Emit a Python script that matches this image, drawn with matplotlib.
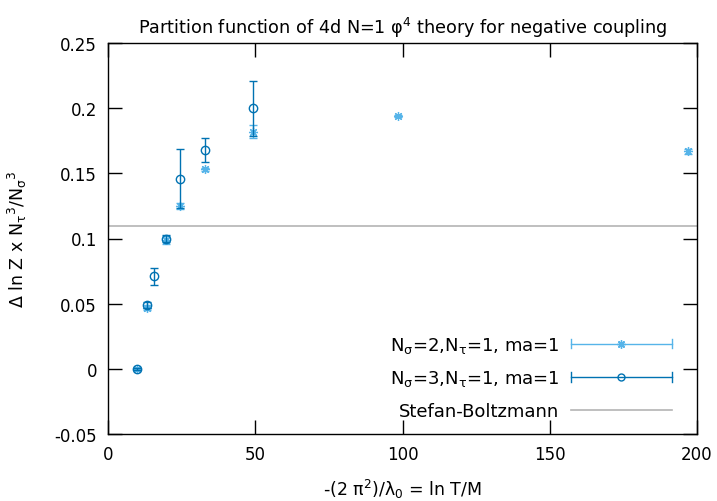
import numpy as np
import matplotlib
matplotlib.use("Agg")
import matplotlib.pyplot as plt
from matplotlib.lines import Line2D
from matplotlib.legend_handler import HandlerBase

# Data
x_n2 = [9.8, 13.1, 19.7, 24.6, 32.8, 49.2, 98.5, 197.0]
y_n2 = [0.0, 0.047, 0.099, 0.125, 0.153, 0.182, 0.194, 0.167]
e_n2 = [0.001, 0.002, 0.003, 0.002, 0.001, 0.005, 0.001, 0.002]

x_n3 = [9.8, 13.1, 15.6, 19.7, 24.6, 32.8, 49.2]
y_n3 = [0.0, 0.049, 0.071, 0.100, 0.146, 0.168, 0.200]
e_n3 = [0.001, 0.002, 0.0067, 0.003, 0.0225, 0.009, 0.021]

sb_value = np.pi ** 2 / 90

label_n2 = r'N$_\mathrm{\sigma}$=2,N$_\mathrm{\tau}$=1, ma=1'
label_n3 = r'N$_\mathrm{\sigma}$=3,N$_\mathrm{\tau}$=1, ma=1'
label_sb = 'Stefan-Boltzmann'

c2 = '#56b4e9'
c3 = '#0072b2'
csb = '#b4b4b4'

plt.rcParams['font.family'] = ['DejaVu Sans']
plt.rcParams['mathtext.fontset'] = 'dejavusans'

fig = plt.figure(figsize=(7.17, 5.02), dpi=100)
ax = fig.add_axes([108/717, 1-435/502, (697-108)/717, (435-44)/502])

ax.axhline(sb_value, color=csb, lw=1.2, zorder=1)
star = (8, 2, 0)
ax.errorbar(x_n2, y_n2, yerr=e_n2, fmt='none', ecolor=c2, elinewidth=1.0,
            capsize=3.2, capthick=1.0, zorder=2)
ax.plot(x_n2, y_n2, linestyle='none', marker=star, ms=6.5, mec=c2, mew=0.9, zorder=3)
ax.errorbar(x_n3, y_n3, yerr=e_n3, fmt='none', ecolor=c3, elinewidth=1.0,
            capsize=3.2, capthick=1.0, zorder=4)
ax.plot(x_n3, y_n3, linestyle='none', marker='o', ms=6, mfc='none', mec=c3, mew=1.0, zorder=5)

ax.set_xlim(0, 200)
ax.set_ylim(-0.05, 0.25)
ax.set_xticks([0, 50, 100, 150, 200])
ax.set_yticks([-0.05, 0, 0.05, 0.1, 0.15, 0.2, 0.25])
ax.set_yticklabels(['-0.05', '0', '0.05', '0.1', '0.15', '0.2', '0.25'])
ax.tick_params(direction='in', length=10, width=1.0, top=True, right=True,
               labelsize=12, pad=8, colors='black')
for s in ax.spines.values():
    s.set_linewidth(1.0)

ax.set_title(r'Partition function of 4d N=1 φ$^4$ theory for negative coupling',
             fontsize=12.7, pad=7)
ax.set_xlabel(r'-(2 π$^2$)/λ$_0$ = ln T/M', fontsize=12.5, labelpad=10)
ax.set_ylabel(r'Δ ln Z x N$_\mathrm{\tau}$$^3$/N$_\mathrm{\sigma}$$^3$', fontsize=12.5, labelpad=18)


class HandlerErr(HandlerBase):
    def __init__(self, color, marker, ms, mfc, kind='err'):
        super().__init__()
        self.color = color
        self.marker = marker
        self.ms = ms
        self.mfc = mfc
        self.kind = kind

    def create_artists(self, legend, orig_handle, xdescent, ydescent, width,
                       height, fontsize, trans):
        y = (height - ydescent) / 2.0
        x0 = -xdescent
        x1 = x0 + width
        arts = []
        if self.kind == 'line':
            ln = Line2D([x0, x1], [y, y], color=self.color, lw=1.2)
            arts.append(ln)
        else:
            ln = Line2D([x0, x1], [y, y], color=self.color, lw=1.0)
            c = 3.5
            caps = Line2D([x0, x0, np.nan, x1, x1], [y - c, y + c, np.nan, y - c, y + c],
                          color=self.color, lw=1.0)
            mk = Line2D([(x0 + x1) / 2], [y], linestyle='none', marker=self.marker,
                        ms=self.ms, mfc=self.mfc, mec=self.color, mew=1.0)
            arts += [ln, caps, mk]
        for a in arts:
            a.set_transform(trans)
        return arts


h2 = Line2D([], [])
h3 = Line2D([], [])
hsb = Line2D([], [])
leg = ax.legend([h2, h3, hsb], [label_n2, label_n3, label_sb],
                handler_map={h2: HandlerErr(c2, star, 6, 'none'),
                             h3: HandlerErr(c3, 'o', 5, 'none'),
                             hsb: HandlerErr(csb, None, 0, 'none', kind='line')},
                loc='lower right', bbox_to_anchor=(1 - 25/589, 14/391),
                frameon=False, markerfirst=False, handlelength=5.6,
                handletextpad=0.65, labelspacing=0.75, fontsize=13,
                borderaxespad=0, borderpad=0)

fig.savefig('out.png', dpi=100)
